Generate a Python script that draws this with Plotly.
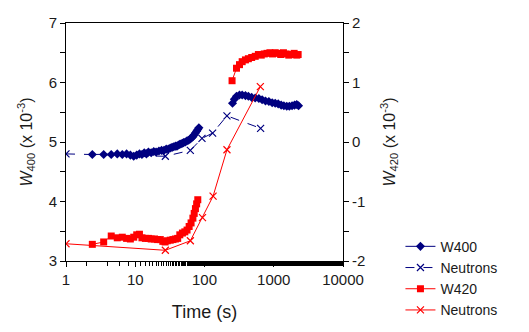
import plotly.graph_objects as go

# W400 (left axis), early segment
w400_t1 = [2.4, 3.5, 4.5, 5.5, 6.5, 7.5, 8.5, 9.5, 10.5, 11.5, 12.5, 13.5, 14.5, 15.5, 17, 18.5, 20, 22, 24, 26,
           28, 30, 32, 34, 36, 38, 40, 42, 44, 46, 48, 50, 53, 56, 59, 62, 65, 68, 71, 74, 77, 80, 83]
w400_v1 = [4.79, 4.79, 4.79, 4.80, 4.79, 4.80, 4.78, 4.76, 4.78, 4.80, 4.79, 4.82, 4.80, 4.83, 4.82, 4.84, 4.83,
           4.85, 4.86, 4.86, 4.88, 4.88, 4.90, 4.91, 4.92, 4.93, 4.93, 4.95, 4.96, 4.97, 4.98, 4.99, 5.00, 5.02,
           5.03, 5.05, 5.07, 5.09, 5.12, 5.15, 5.18, 5.21, 5.24]
# W400, late segment
w400_t2 = [254, 270, 290, 320, 350, 390, 430, 480, 540, 610, 680, 760, 850, 950, 1050, 1160, 1280, 1400, 1540,
           1680, 1840, 2000, 2150, 2280]
w400_v2 = [5.65, 5.72, 5.77, 5.79, 5.79, 5.78, 5.77, 5.75, 5.74, 5.73, 5.71, 5.69, 5.68, 5.66, 5.65, 5.64, 5.62,
           5.61, 5.60, 5.60, 5.61, 5.62, 5.63, 5.61]

# Neutrons (left axis)
n400_t = [1, 27.2, 62.4, 92, 131, 211, 646]
n400_v = [4.80, 4.76, 4.86, 5.06, 5.15, 5.44, 5.23]

# W420 (right axis), early segment
w420_t1 = [2.4, 3.5, 4.5, 5.5, 6.5, 7.5, 8.5, 9.5, 10.5, 11.5, 12.5, 14, 15.5, 17, 19, 21, 23, 25, 27, 29, 32,
           35, 38, 41, 44, 48, 52, 56, 60, 64, 68, 71, 74, 77, 80]
w420_v1 = [-1.72, -1.68, -1.58, -1.61, -1.60, -1.62, -1.63, -1.60, -1.56, -1.55, -1.61, -1.62, -1.62, -1.63,
           -1.63, -1.64, -1.64, -1.67, -1.68, -1.66, -1.65, -1.64, -1.63, -1.62, -1.56, -1.53, -1.51, -1.48,
           -1.42, -1.36, -1.28, -1.20, -1.12, -1.04, -0.97]
# W420, late segment
w420_t2 = [250, 290, 320, 350, 390, 430, 480, 540, 600, 660, 730, 800, 880, 960, 1050, 1150, 1260, 1380, 1510,
           1650, 1800, 1970, 2150, 2250]
w420_v2 = [1.03, 1.24, 1.30, 1.35, 1.38, 1.40, 1.42, 1.44, 1.47, 1.46, 1.48, 1.49, 1.50, 1.48, 1.50, 1.49, 1.47,
           1.50, 1.48, 1.46, 1.47, 1.49, 1.46, 1.47]

# Neutrons (right axis)
n420_t = [1, 27.2, 62.5, 93.6, 133, 211, 640]
n420_v = [-1.71, -1.82, -1.66, -1.27, -0.91, -0.13, 0.93]

# tick labels
x_ticks = [1, 10, 100, 1000, 10000]
x_ticklabels = ["1", "10", "100", "1000", "10000"]
y_ticks = [3, 4, 5, 6, 7]
y2_ticks = [-2, -1, 0, 1, 2]
y2_ticklabels = ["-2", "-1", "0", "1", "2"]

NAVY = "#000080"
RED = "#FF0000"

fig = go.Figure()
fig.add_trace(go.Scatter(x=w400_t1 + [None] + w400_t2, y=w400_v1 + [None] + w400_v2, name="W400",
                         mode="lines+markers", connectgaps=False,
                         line=dict(color=NAVY, width=1),
                         marker=dict(symbol="diamond", size=7, color=NAVY)))
fig.add_trace(go.Scatter(x=n400_t, y=n400_v, name="Neutrons", mode="lines+markers",
                         line=dict(color=NAVY, width=1, dash="dash"),
                         marker=dict(symbol="x-thin-open", size=7, line=dict(color=NAVY, width=1.2))))
fig.add_trace(go.Scatter(x=w420_t1 + [None] + w420_t2, y=w420_v1 + [None] + w420_v2, name="W420",
                         mode="lines+markers", yaxis="y2", connectgaps=False,
                         line=dict(color=RED, width=1),
                         marker=dict(symbol="square", size=7, color=RED)))
fig.add_trace(go.Scatter(x=n420_t, y=n420_v, name="Neutrons", mode="lines+markers", yaxis="y2",
                         line=dict(color=RED, width=1),
                         marker=dict(symbol="x-thin-open", size=7, line=dict(color=RED, width=1.2))))

font = dict(family="Liberation Sans, Arial, sans-serif", size=15, color="#1a1a1a")

fig.update_layout(
    width=529, height=332,
    margin=dict(l=66, r=186, t=23, b=71, autoexpand=False),
    paper_bgcolor="white", plot_bgcolor="white",
    font=font,
    showlegend=True,
    legend=dict(xref="container", yref="container", x=0.757, y=0.305, xanchor="left", yanchor="top",
                font=dict(size=14), bgcolor="rgba(0,0,0,0)", tracegroupgap=0),
    xaxis=dict(type="log", range=[0, 4], showgrid=False, zeroline=False,
               showline=True, linecolor="black", linewidth=1, mirror=True,
               ticks="outside", ticklen=5, tickcolor="black",
               tickvals=x_ticks, ticktext=x_ticklabels,
               minor=dict(ticks="outside", ticklen=4, tickcolor="black", showgrid=False),
               title=dict(text="Time (s)", standoff=18)),
    yaxis=dict(range=[3, 7], showgrid=False, zeroline=False,
               showline=True, linecolor="black", linewidth=1,
               ticks="outside", ticklen=5, tickcolor="black", tickvals=y_ticks,
               minor=dict(ticks="outside", ticklen=5, dtick=0.5, tickcolor="black", showgrid=False),
               title=dict(text="<i>W</i><sub>400</sub> (x 10<sup>-3</sup>)", standoff=12,
                          font=dict(size=16))),
    yaxis2=dict(range=[-2, 2], overlaying="y", side="right", showgrid=False, zeroline=False,
                showline=True, linecolor="black", linewidth=1,
                ticks="outside", ticklen=5, tickcolor="black",
                tickvals=y2_ticks, ticktext=y2_ticklabels,
                minor=dict(ticks="outside", ticklen=5, dtick=0.5, tickcolor="black", showgrid=False),
                title=dict(text="<i>W</i><sub>420</sub> (x 10<sup>-3</sup>)", standoff=20,
                           font=dict(size=16))),
)

fig.write_html("out.html")
